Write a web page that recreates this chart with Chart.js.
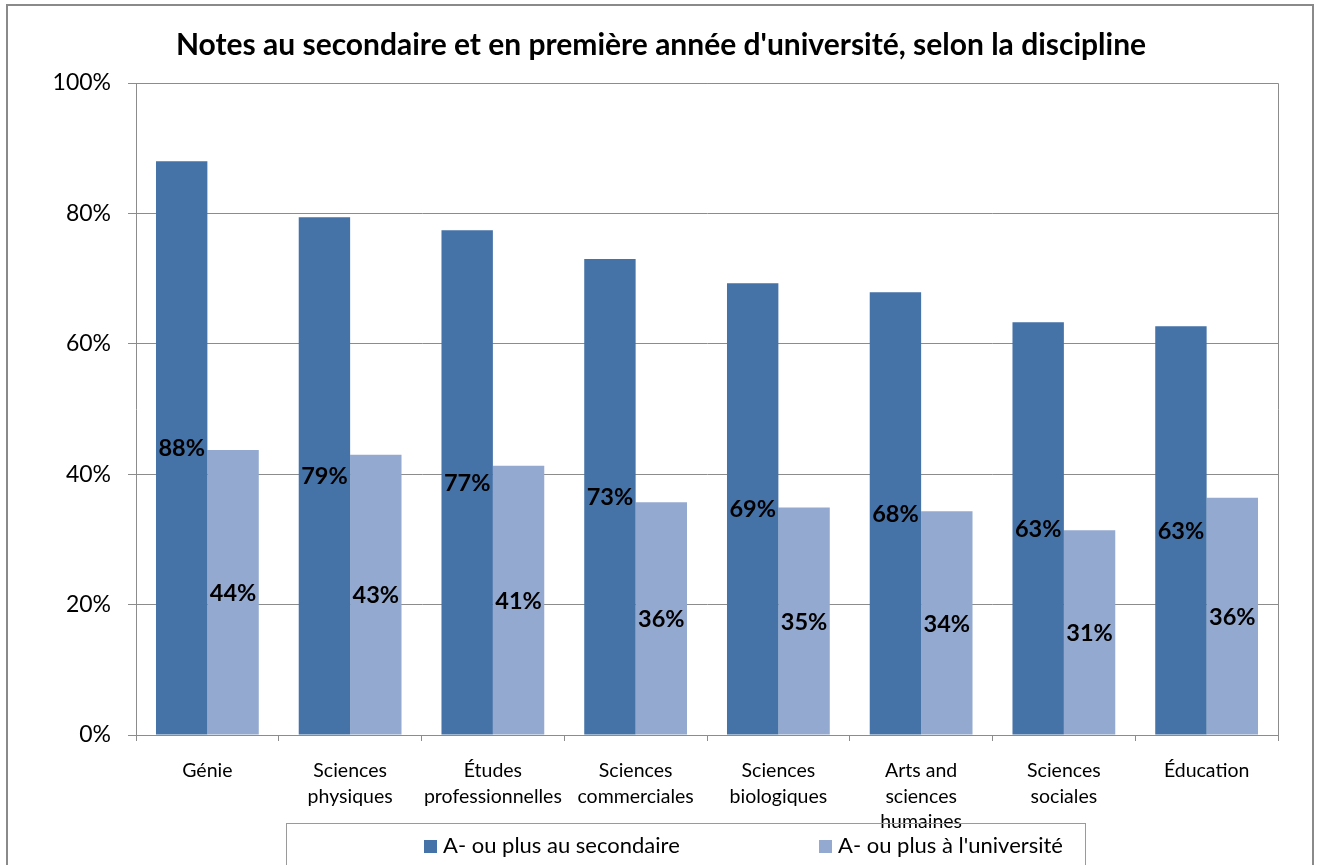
<!DOCTYPE html>
<html lang="fr">
<head>
  <meta charset="UTF-8" />
  <title>Notes au secondaire et en première année d'université</title>
  <script src="https://cdn.jsdelivr.net/npm/chart.js"></script>
  <style>
    body {
      margin: 0;
      padding: 0;
      background: #fff;
      overflow: hidden;
      font-family: Lato, "Open Sans", sans-serif;
    }

    .wrap {
      position: relative;
      width: 1317px;
      height: 865px;
      overflow: hidden;
    }

    canvas {
      position: absolute;
      left: 0;
      top: 0;
    }

    .legend {
      position: absolute;
      left: 286px;
      top: 823px;
      width: 798px;
      height: 80px;
      border: 1px solid #9a9a9a;
    }

    .legend .item {
      position: absolute;
      top: 8px;
      font-size: 22px;
      line-height: 26px;
      color: #000;
      white-space: nowrap;
    }

    .legend .swatch {
      display: inline-block;
      width: 13px;
      height: 13px;
      margin-right: 6px;
      vertical-align: 0px;
    }
  </style>
</head>
<body>

  <div class="wrap">
    <canvas id="gradesChart" width="1317" height="865"></canvas>
    <div class="legend" id="legend"></div>
  </div>

  <script>
    const titleText = "Notes au secondaire et en première année d'université, selon la discipline";

    const disciplines = [
      'Génie',
      ['Sciences', 'physiques'],
      ['Études', 'professionnelles'],
      ['Sciences', 'commerciales'],
      ['Sciences', 'biologiques'],
      ['Arts and', 'sciences', 'humaines'],
      ['Sciences', 'sociales'],
      'Éducation'
    ];

    const seriesNames = ['A- ou plus au secondaire', "A- ou plus à l'université"];
    const secondaire = [88.0, 79.4, 77.4, 73.0, 69.3, 67.9, 63.3, 62.7];
    const universite = [43.7, 43.0, 41.3, 35.7, 34.9, 34.3, 31.4, 36.4];
    const yTicks = [0, 20, 40, 60, 80, 100];

    const darkBlue = '#4572a7';
    const lightBlue = '#93a9cf';
    const gridGray = '#8c8c8c';
    const fontFamily = 'Lato, "Open Sans", sans-serif';

    // labels in the middle of each bar
    const barLabels = {
      id: 'barLabels',
      afterDatasetsDraw(chart) {
        const ctx = chart.ctx;
        ctx.save();
        ctx.font = 'bold 23.5px ' + fontFamily;
        ctx.fillStyle = '#000';
        ctx.textAlign = 'center';
        ctx.textBaseline = 'middle';
        chart.data.datasets.forEach((ds, i) => {
          chart.getDatasetMeta(i).data.forEach((bar, j) => {
            const y = (bar.y + bar.base) / 2;
            ctx.fillText(Math.round(ds.data[j]) + '%', bar.x, y + 1);
          });
        });
        ctx.restore();
      }
    };

    // outer frame and plot area box
    const frames = {
      id: 'frames',
      beforeDraw(chart) {
        const ctx = chart.ctx;
        ctx.save();
        ctx.fillStyle = '#fff';
        ctx.fillRect(0, 0, chart.width, chart.height);
        ctx.strokeStyle = '#8a8a8a';
        ctx.lineWidth = 2;
        ctx.strokeRect(7, 5, 1306, 900);
        ctx.restore();
      },
      afterDraw(chart) {
        const a = chart.chartArea;
        const ctx = chart.ctx;
        ctx.save();
        ctx.strokeStyle = gridGray;
        ctx.lineWidth = 1;
        ctx.beginPath();
        ctx.moveTo(a.left, a.top + 0.5);
        ctx.lineTo(a.right + 0.5, a.top + 0.5);
        ctx.lineTo(a.right + 0.5, a.bottom);
        ctx.stroke();
        ctx.restore();
      }
    };

    const chart = new Chart(document.getElementById('gradesChart').getContext('2d'), {
      type: 'bar',
      data: {
        labels: disciplines,
        datasets: [
          {
            label: seriesNames[0],
            data: secondaire,
            backgroundColor: darkBlue,
            borderWidth: 0,
            categoryPercentage: 0.72,
            barPercentage: 1.0
          },
          {
            label: seriesNames[1],
            data: universite,
            backgroundColor: lightBlue,
            borderWidth: 0,
            categoryPercentage: 0.72,
            barPercentage: 1.0
          }
        ]
      },
      options: {
        responsive: false,
        animation: false,
        layout: {
          padding: { top: 10, left: 44, right: 39, bottom: 0 }
        },
        scales: {
          x: {
            grid: {
              offset: true,
              drawOnChartArea: false,
              drawTicks: true,
              tickLength: 6,
              color: gridGray
            },
            border: { color: gridGray },
            ticks: {
              color: '#000',
              padding: 17,
              maxRotation: 0,
              autoSkip: false,
              font: { family: fontFamily, size: 19.5, lineHeight: 1.31 }
            },
            afterFit(scale) { scale.height = 130; }
          },
          y: {
            min: 0,
            max: 100,
            afterBuildTicks(scale) {
              scale.ticks = yTicks.map(v => ({ value: v }));
            },
            grid: {
              color: gridGray,
              tickLength: 8
            },
            border: { color: gridGray },
            ticks: {
              color: '#000',
              padding: 17,
              font: { family: fontFamily, size: 23 },
              callback: v => v + '%'
            },
            afterFit(scale) { scale.width = 92; }
          }
        },
        plugins: {
          legend: { display: false },
          tooltip: { enabled: false },
          title: {
            display: true,
            text: titleText,
            color: '#000',
            font: { family: fontFamily, size: 30, weight: 'bold', lineHeight: 1.2 },
            padding: { top: 17, bottom: 20 }
          }
        }
      },
      plugins: [frames, barLabels]
    });

    // legend box along the bottom edge
    const legendEl = document.getElementById('legend');
    const legendLeft = [137, 532];
    chart.data.datasets.forEach((ds, i) => {
      const item = document.createElement('div');
      item.className = 'item';
      item.style.left = legendLeft[i] + 'px';
      item.innerHTML = '<span class="swatch" style="background:' + ds.backgroundColor + '"></span>' + ds.label;
      legendEl.appendChild(item);
    });
  </script>

</body>
</html>
